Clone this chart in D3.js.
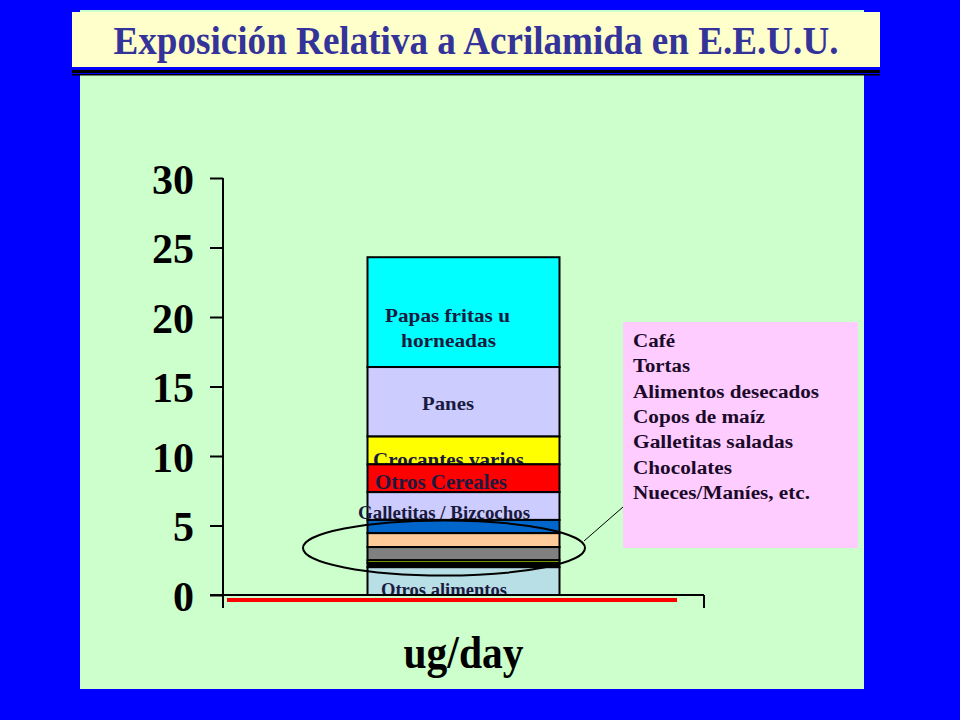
<!DOCTYPE html>
<html><head><meta charset="utf-8">
<script src="https://cdn.jsdelivr.net/npm/d3@7"></script>
<style>body{margin:0;background:#0000FF;}svg{display:block;}</style>
</head><body>
<script>
// ---- data ----
const category = "ug/day";
const segmentNames = ["Otros alimentos","Otros (oscuro)","Otros (verde)","Otros (gris)","Otros (durazno)","Otros (azul)","Galletitas / Bizcochos","Otros Cereales","Crocantes varios","Panes","Papas fritas u horneadas"];
const segmentValues = [2.0, 0.3, 0.2, 0.95, 1.0, 0.95, 2.0, 2.0, 2.0, 5.0, 7.9];
const segmentColors = ["#B8DEE6","#000000","#99CC00","#808080","#FFCC99","#0066CC","#CCCCFF","#FF0000","#FFFF00","#CCCCFF","#00FFFF"];
const yTicks = [0,5,10,15,20,25,30];
const groupItems = ["Café","Tortas","Alimentos desecados","Copos de maíz","Galletitas saladas","Chocolates","Nueces/Maníes, etc."];
const title = "Exposición Relativa a Acrilamida en E.E.U.U.";

const W=960,H=720;
const svg=d3.select("body").append("svg").attr("width",W).attr("height",H);
const serif="'Liberation Serif','Times New Roman',serif";

// background
svg.append("rect").attr("width",W).attr("height",H).attr("fill","#0000FF");
svg.append("rect").attr("x",80).attr("y",10).attr("width",784).attr("height",679).attr("fill","#CCFFCC");
// title band
svg.append("rect").attr("x",72).attr("y",67).attr("width",808).attr("height",8).attr("fill","#0000FF");
svg.append("rect").attr("x",72).attr("y",12).attr("width",808).attr("height",55).attr("fill","#FFFFCC");
svg.append("rect").attr("x",72).attr("y",70).attr("width",808).attr("height",3).attr("fill","#000");
svg.append("rect").attr("x",72).attr("y",74).attr("width",808).attr("height",1.5).attr("fill","#000");
svg.append("text").attr("x",476).attr("y",54).attr("text-anchor","middle")
  .attr("font-family",serif).attr("font-weight","bold").attr("font-size",39)
  .attr("fill","#333399").attr("textLength",725).attr("lengthAdjust","spacingAndGlyphs").text(title);

// scales
const y=d3.scaleLinear().domain([0,30]).range([595,178]);
const x=d3.scaleBand().domain([category]).range([223,704]).paddingInner(0).paddingOuter(0.7526);

// stacked segments
let acc=0;
const segs=segmentValues.map((v,i)=>{const s={i,name:segmentNames[i],y0:acc,y1:acc+v,color:segmentColors[i]};acc+=v;return s;});

// label styling: [text, x-left, baseline, font-size, width]
const labelSpec={
  "Papas fritas u horneadas":[["Papas fritas u",385,322,19,125],["horneadas",401,347,19,95]],
  "Panes":[["Panes",422,410,19,52]],
  "Crocantes varios":[["Crocantes varios",373,467,21,151]],
  "Otros Cereales":[["Otros Cereales",375,489,21,132]],
  "Galletitas / Bizcochos":[["Galletitas / Bizcochos",358,519,18,172]],
  "Otros alimentos":[["Otros alimentos",381,596,18,126]]
};
const g=svg.append("g");
segs.slice().reverse().forEach(s=>{
  g.append("rect").attr("x",x(category)).attr("width",x.bandwidth())
    .attr("y",y(s.y1)).attr("height",y(s.y0)-y(s.y1))
    .attr("fill",s.color).attr("stroke","#000").attr("stroke-width",2);
  const L=labelSpec[s.name];
  if(L){
    L.forEach(([t,lx,ly,fs,tw])=>{
      g.append("text").attr("x",lx).attr("y",ly)
        .attr("font-family",serif).attr("font-weight","bold").attr("font-size",fs)
        .attr("textLength",tw).attr("lengthAdjust","spacingAndGlyphs")
        .attr("fill","#1a1a40").text(t);
    });
  }
});

// red line near baseline
svg.append("line").attr("x1",227).attr("x2",677).attr("y1",600).attr("y2",600).attr("stroke","#FF0000").attr("stroke-width",4);

// y axis
const yAxis=svg.append("g").attr("transform","translate(223,0)")
  .call(d3.axisLeft(y).tickValues(yTicks).tickSize(13).tickPadding(16).tickFormat(d3.format("d")));
yAxis.select(".domain").remove();
yAxis.selectAll(".tick line").attr("stroke","#000").attr("stroke-width",2);
yAxis.selectAll("text").attr("font-family",serif).attr("font-weight","bold").attr("font-size",42).attr("fill","#000").attr("dy","0.36em");
svg.append("line").attr("x1",223).attr("x2",223).attr("y1",178).attr("y2",608).attr("stroke","#000").attr("stroke-width",2);
// x axis
svg.append("line").attr("x1",210).attr("x2",704).attr("y1",595).attr("y2",595).attr("stroke","#000").attr("stroke-width",2);
svg.append("line").attr("x1",704).attr("x2",704).attr("y1",595).attr("y2",608).attr("stroke","#000").attr("stroke-width",2);
svg.append("text").attr("x",x(category)+x.bandwidth()/2).attr("y",668).attr("text-anchor","middle")
  .attr("font-family",serif).attr("font-weight","bold").attr("font-size",46).attr("fill","#000")
  .attr("textLength",120).attr("lengthAdjust","spacingAndGlyphs").text(category);

// callout ellipse + line + box
svg.append("ellipse").attr("cx",444).attr("cy",548).attr("rx",141).attr("ry",27.5)
  .attr("fill","none").attr("stroke","#000").attr("stroke-width",2);
svg.append("line").attr("x1",584).attr("y1",541).attr("x2",623).attr("y2",507).attr("stroke","#000").attr("stroke-width",1);
svg.append("rect").attr("x",623).attr("y",322).attr("width",235).attr("height",226).attr("fill","#FFCCFF");
const legendWidths=[42,57,186,132,160,99,177];
svg.append("g").selectAll("text").data(groupItems).join("text")
  .attr("x",633).attr("y",(d,i)=>347+i*25.3)
  .attr("textLength",(d,i)=>legendWidths[i]).attr("lengthAdjust","spacingAndGlyphs")
  .attr("font-family",serif).attr("font-weight","bold").attr("font-size",18).attr("fill","#1a0a2a").text(d=>d);
</script>
</body></html>
